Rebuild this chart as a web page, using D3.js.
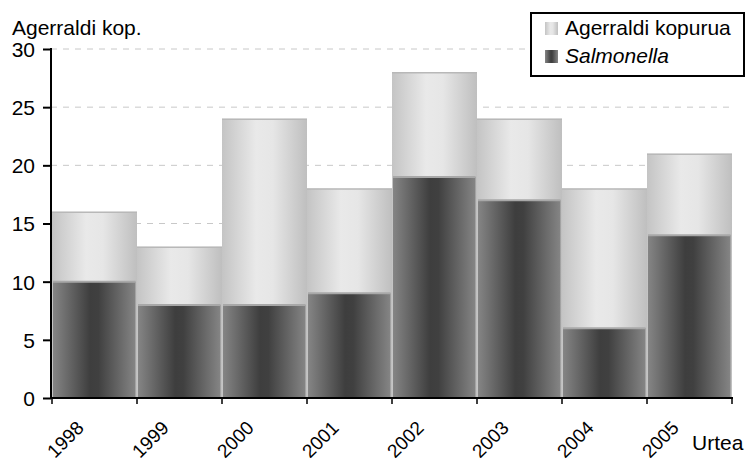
<!DOCTYPE html>
<html>
<head>
<meta charset="utf-8">
<script src="https://cdn.jsdelivr.net/npm/d3@7"></script>
<style>
  html, body { margin: 0; padding: 0; background: #fff; }
  text { font-family: Arial, "Liberation Sans", sans-serif; fill: #000; }
</style>
</head>
<body>
<div id="chart"></div>
<script>
(function () {
  "use strict";

  const years = ["1998", "1999", "2000", "2001", "2002", "2003", "2004", "2005"];
  const totalCounts = [16, 13, 24, 18, 28, 24, 18, 21];
  const salmonellaCounts = [10, 8, 8, 9, 19, 17, 6, 14];
  const yTicks = [0, 5, 10, 15, 20, 25, 30];

  const W = 746, H = 464;
  const margin = { left: 51, right: 14, top: 49, bottom: 66 };
  const FONT = 21;

  const svg = d3.select("#chart").append("svg")
    .attr("width", W).attr("height", H);

  const defs = svg.append("defs");

  function gradient(id, stops) {
    const g = defs.append("linearGradient").attr("id", id)
      .attr("x1", "0%").attr("x2", "100%").attr("y1", "0%").attr("y2", "0%");
    stops.forEach(s => g.append("stop").attr("offset", s[0]).attr("stop-color", s[1]));
  }
  gradient("lightGrad", [["0%", "#c4c4c4"], ["40%", "#e9e9e9"], ["60%", "#e6e6e6"], ["100%", "#bfbfbf"]]);
  gradient("darkGrad", [["0%", "#858585"], ["45%", "#3e3e3e"], ["55%", "#404040"], ["100%", "#858585"]]);

  const x = d3.scaleBand().domain(years)
    .range([margin.left + 1, W - margin.right]).padding(0);
  const y = d3.scaleLinear().domain([0, 30])
    .range([H - margin.bottom, margin.top]);

  // gridlines
  svg.append("g").selectAll("line")
    .data(yTicks.filter(d => d > 0))
    .enter().append("line")
    .attr("x1", margin.left).attr("x2", W - margin.right)
    .attr("y1", d => y(d)).attr("y2", d => y(d))
    .attr("stroke", "#c8c8c8").attr("stroke-width", 1)
    .attr("stroke-dasharray", "6,6");

  // total bars (back)
  svg.append("g").selectAll("rect")
    .data(years)
    .enter().append("rect")
    .attr("x", d => x(d))
    .attr("y", (d, i) => y(totalCounts[i]))
    .attr("width", x.bandwidth())
    .attr("height", (d, i) => y(0) - y(totalCounts[i]))
    .attr("fill", "url(#lightGrad)");

  svg.append("g").selectAll("line")
    .data(years)
    .enter().append("line")
    .attr("x1", d => x(d)).attr("x2", d => x(d) + x.bandwidth())
    .attr("y1", (d, i) => y(totalCounts[i]) + 0.5)
    .attr("y2", (d, i) => y(totalCounts[i]) + 0.5)
    .attr("stroke", "#b8b8b8").attr("stroke-width", 1.5);

  // salmonella bars (front)
  svg.append("g").selectAll("rect")
    .data(years)
    .enter().append("rect")
    .attr("x", d => x(d) + 1)
    .attr("y", (d, i) => y(salmonellaCounts[i]))
    .attr("width", x.bandwidth() - 2.5)
    .attr("height", (d, i) => y(0) - y(salmonellaCounts[i]))
    .attr("fill", "url(#darkGrad)");

  svg.append("g").selectAll("line")
    .data(years)
    .enter().append("line")
    .attr("x1", d => x(d) + 1).attr("x2", d => x(d) + x.bandwidth() - 1.5)
    .attr("y1", (d, i) => y(salmonellaCounts[i]))
    .attr("y2", (d, i) => y(salmonellaCounts[i]))
    .attr("stroke", "#a8a8a8").attr("stroke-width", 2);

  // y axis
  const yAxis = svg.append("g")
    .attr("transform", `translate(${margin.left},0)`)
    .call(d3.axisLeft(y).tickValues(yTicks).tickSize(8).tickPadding(8));
  yAxis.select(".domain").attr("stroke", "#000").attr("stroke-width", 2)
    .attr("d", `M0,${y(30) - 1}V${y(0)}`);
  yAxis.selectAll(".tick line").attr("stroke", "#000").attr("stroke-width", 2);
  yAxis.selectAll(".tick text").attr("font-size", FONT).attr("dy", "0.35em");

  // x axis: ticks at category boundaries
  const boundaries = years.map(d => x(d)).concat([x(years[years.length - 1]) + x.bandwidth()]);
  const xAxis = svg.append("g");
  xAxis.append("line")
    .attr("x1", margin.left - 1).attr("x2", W - margin.right + 1)
    .attr("y1", y(0)).attr("y2", y(0))
    .attr("stroke", "#000").attr("stroke-width", 2);
  xAxis.selectAll("line.tick")
    .data(boundaries)
    .enter().append("line").attr("class", "tick")
    .attr("x1", d => d).attr("x2", d => d)
    .attr("y1", y(0)).attr("y2", y(0) + 6)
    .attr("stroke", "#000").attr("stroke-width", 1.5);

  xAxis.selectAll("text")
    .data(years)
    .enter().append("text")
    .attr("transform", d => `translate(${x(d) + 33},${y(0) + 31}) rotate(-45)`)
    .attr("text-anchor", "end")
    .attr("font-size", 19)
    .text(d => d);

  // axis titles
  svg.append("text")
    .attr("x", 12).attr("y", 35)
    .attr("font-size", FONT)
    .text("Agerraldi kop.");

  svg.append("text")
    .attr("x", 692).attr("y", 450)
    .attr("font-size", FONT)
    .text("Urtea");

  // legend
  const lg = svg.append("g");
  lg.append("rect")
    .attr("x", 531).attr("y", 13)
    .attr("width", 213).attr("height", 63)
    .attr("fill", "#fff").attr("stroke", "#000").attr("stroke-width", 2);

  const legendItems = [
    { label: "Agerraldi kopurua", fill: "url(#lightGrad)", italic: false },
    { label: "Salmonella", fill: "url(#darkGrad)", italic: true }
  ];
  legendItems.forEach((item, i) => {
    const row = lg.append("g").attr("transform", `translate(545,${22 + i * 28})`);
    row.append("rect").attr("width", 13).attr("height", 13).attr("fill", item.fill);
    row.append("text")
      .attr("x", 20).attr("y", 13)
      .attr("font-size", FONT)
      .attr("font-style", item.italic ? "italic" : "normal")
      .text(item.label);
  });
})();
</script>
</body>
</html>
